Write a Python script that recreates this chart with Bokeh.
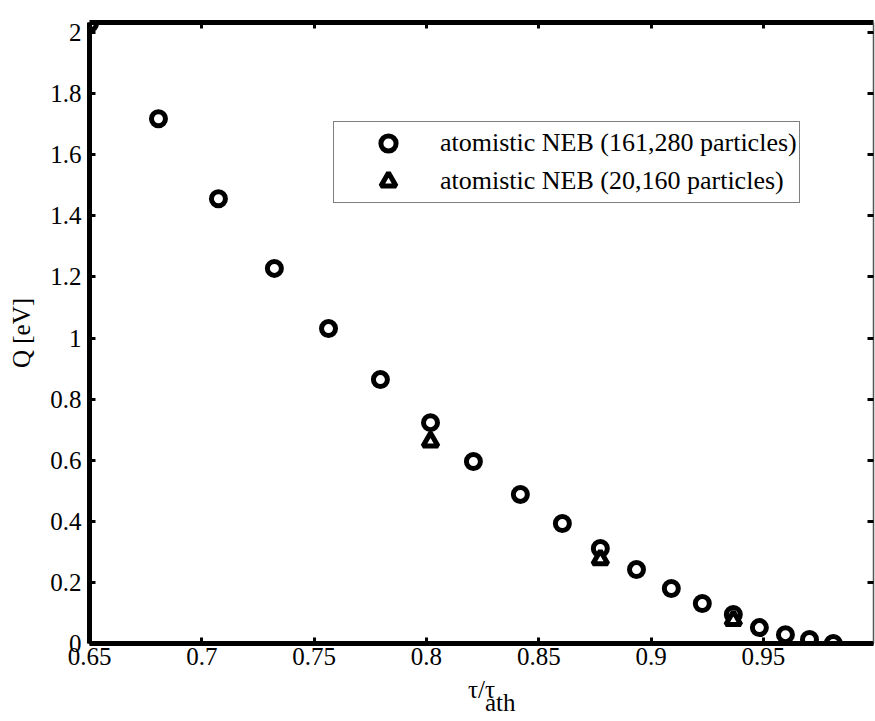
from bokeh.plotting import figure
from bokeh.models import LinearAxis, Range1d, FixedTicker, Legend, LegendItem
from bokeh.embed import file_html
from bokeh.resources import INLINE

# ---- data ----
tau_big = [0.650, 0.6807, 0.7074, 0.7323, 0.7564, 0.7795, 0.8018, 0.8209, 0.8418,
           0.8605, 0.8774, 0.8935, 0.9090, 0.9228, 0.9366, 0.9482, 0.9598, 0.9705, 0.9811]
q_big = [2.030, 1.718, 1.456, 1.228, 1.031, 0.864, 0.723, 0.596, 0.488,
         0.393, 0.311, 0.242, 0.180, 0.131, 0.095, 0.052, 0.029, 0.013, 0.000]

tau_small = [0.8018, 0.8774, 0.9366]
q_small = [0.661, 0.275, 0.076]

x_ticks = [0.65, 0.7, 0.75, 0.8, 0.85, 0.9, 0.95]
x_tick_labels = ["0.65", "0.7", "0.75", "0.8", "0.85", "0.9", "0.95"]
y_ticks = [0, 0.2, 0.4, 0.6, 0.8, 1, 1.2, 1.4, 1.6, 1.8, 2]
y_tick_labels = ["0", "0.2", "0.4", "0.6", "0.8", "1", "1.2", "1.4", "1.6", "1.8", "2"]

legend_labels = ["atomistic NEB (161,280 particles)", "atomistic NEB (20,160 particles)"]
y_label = "Q [eV]"
x_label_main = "τ/τ"
x_label_sub = "ath"

FONT = "Liberation Serif"

p = figure(width=875, height=721, output_backend="svg", toolbar_location=None,
           x_range=Range1d(0.65, 0.999), y_range=Range1d(0, 2.033),
           min_border_left=89, min_border_right=2, min_border_top=22, min_border_bottom=78)
p.grid.visible = False
p.outline_line_color = None
p.background_fill_color = "white"
p.border_fill_color = "white"

r1 = p.scatter(tau_big, q_big, marker="circle", size=14, line_width=5,
               line_color="black", fill_color="white")
r2 = p.scatter(tau_small, q_small, marker="triangle", size=15, line_width=5,
               line_color="black", fill_color="white")

def style(ax, ticks, labels, show_labels=True, lw=5, color="black"):
    ax.ticker = FixedTicker(ticks=ticks)
    ax.minor_tick_line_color = None
    ax.axis_line_width = lw
    ax.axis_line_color = color
    ax.major_tick_in = 6
    ax.major_tick_out = 0
    ax.major_tick_line_width = 3
    ax.major_tick_line_color = "black"
    ax.major_label_text_font = FONT
    if show_labels:
        ax.major_label_overrides = {t: l for t, l in zip(ticks, labels)}
        ax.major_label_text_font_size = "25px"
        ax.major_label_text_color = "black"
    else:
        ax.major_label_text_font_size = "1px"
        ax.major_label_text_color = None
        ax.major_label_standoff = 0

xa = p.xaxis[0]
ya = p.yaxis[0]
style(xa, x_ticks, x_tick_labels)
xa.major_label_standoff = 4
xa.axis_label = x_label_main + "\n" + "\u00a0" * 6 + x_label_sub
xa.axis_label_text_font = FONT
xa.axis_label_text_font_size = "25px"
xa.axis_label_text_font_style = "normal"
xa.axis_label_text_color = "black"
xa.axis_label_text_line_height = 0.5
xa.axis_label_standoff = 8

style(ya, y_ticks, y_tick_labels)
ya.major_label_standoff = 8
ya.axis_label = y_label
ya.axis_label_text_font = FONT
ya.axis_label_text_font_size = "25px"
ya.axis_label_text_font_style = "normal"
ya.axis_label_text_color = "black"
ya.axis_label_standoff = 12

top = LinearAxis()
style(top, x_ticks, x_tick_labels, show_labels=False)
p.add_layout(top, "above")
right = LinearAxis()
style(right, y_ticks, y_tick_labels, show_labels=False, lw=1.5, color="#555555")
p.add_layout(right, "right")

legend = Legend(items=[LegendItem(label=legend_labels[0], renderers=[r1]),
                       LegendItem(label=legend_labels[1], renderers=[r2])],
                location=(244, 440), padding=2, spacing=0, margin=0,
                glyph_width=104, glyph_height=38, label_height=38, label_standoff=0,
                label_text_font=FONT, label_text_font_size="26px", label_text_color="black",
                border_line_color="black", border_line_width=1.5,
                background_fill_color="white", background_fill_alpha=1)
p.add_layout(legend)

open("out.html", "w").write(file_html(p, INLINE))
